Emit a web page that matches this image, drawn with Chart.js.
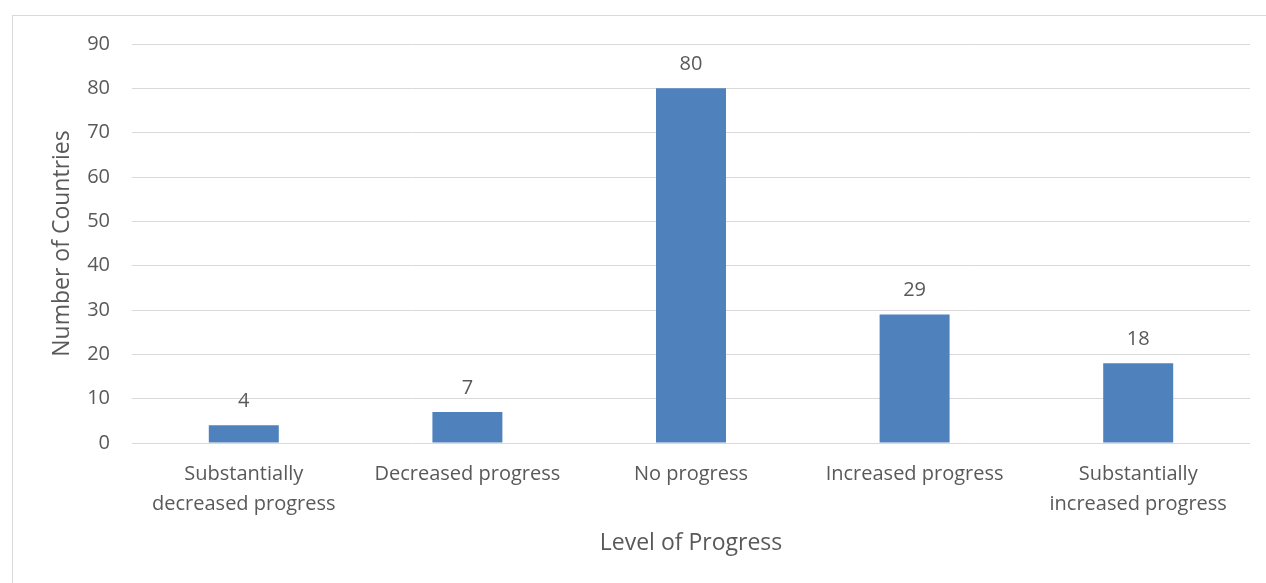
<!DOCTYPE html>
<html>
<head>
<meta charset="utf-8">
<script src="https://cdn.jsdelivr.net/npm/chart.js@4/dist/chart.umd.min.js"></script>
<style>
  html, body { margin: 0; padding: 0; background: #fff; }
  #wrap { position: relative; width: 1266px; height: 583px; overflow: hidden; }
  #frame { position: absolute; left: 12px; top: 15px; width: 1300px; height: 700px; border: 1px solid #d9d9d9; box-sizing: border-box; }
  canvas { position: absolute; left: 0; top: 0; }
</style>
</head>
<body>
<div id="wrap">
  <div id="frame"></div>
  <canvas id="c" width="1266" height="583"></canvas>
</div>
<script>
const categories = [
  ["Substantially", "decreased progress"],
  "Decreased progress",
  "No progress",
  "Increased progress",
  ["Substantially", "increased progress"]
];
const countries = [4, 7, 80, 29, 18];
const yTicks = [0, 10, 20, 30, 40, 50, 60, 70, 80, 90];
const xTitle = "Level of Progress";
const yTitle = "Number of Countries";

const FONT = "'Open Sans', sans-serif";
const TEXT = "#595959";

const valueLabels = {
  id: "valueLabels",
  afterDatasetsDraw(chart) {
    const ctx = chart.ctx;
    const meta = chart.getDatasetMeta(0);
    ctx.save();
    ctx.font = "20px " + FONT;
    ctx.fillStyle = TEXT;
    ctx.textAlign = "center";
    ctx.textBaseline = "middle";
    meta.data.forEach((bar, i) => {
      ctx.fillText(String(countries[i]), bar.x, bar.y - 24);
    });
    ctx.restore();
  }
};

new Chart(document.getElementById("c"), {
  type: "bar",
  data: {
    labels: categories,
    datasets: [{
      data: countries,
      backgroundColor: "#4f81bd",
      borderWidth: 0,
      barPercentage: 0.313,
      categoryPercentage: 1.0
    }]
  },
  options: {
    responsive: false,
    animation: false,
    devicePixelRatio: 1,
    layout: { padding: { left: 0, top: 44, right: 16, bottom: 0 } },
    plugins: { legend: { display: false }, tooltip: { enabled: false } },
    scales: {
      x: {
        grid: { display: false },
        border: { display: false },
        ticks: { color: TEXT, font: { family: FONT, size: 20, lineHeight: 1.5 }, padding: 8, maxRotation: 0, autoSkip: false },
        title: { display: true, text: xTitle, color: TEXT, font: { family: FONT, size: 23 }, padding: { top: 0, bottom: 26 } },
        afterFit(scale) { scale.height = 140; }
      },
      y: {
        min: 0,
        max: 90,
        afterBuildTicks(scale) { scale.ticks = yTicks.map(v => ({ value: v })); },
        grid: { color: "#d9d9d9", lineWidth: 1, drawTicks: false },
        border: { display: false },
        ticks: { color: TEXT, font: { family: FONT, size: 20 }, padding: 22 },
        title: { display: true, text: yTitle, color: TEXT, font: { family: FONT, size: 23 }, padding: { top: 49, bottom: 0 } },
        afterFit(scale) { scale.width = 132; }
      }
    }
  },
  plugins: [valueLabels]
});
</script>
</body>
</html>
